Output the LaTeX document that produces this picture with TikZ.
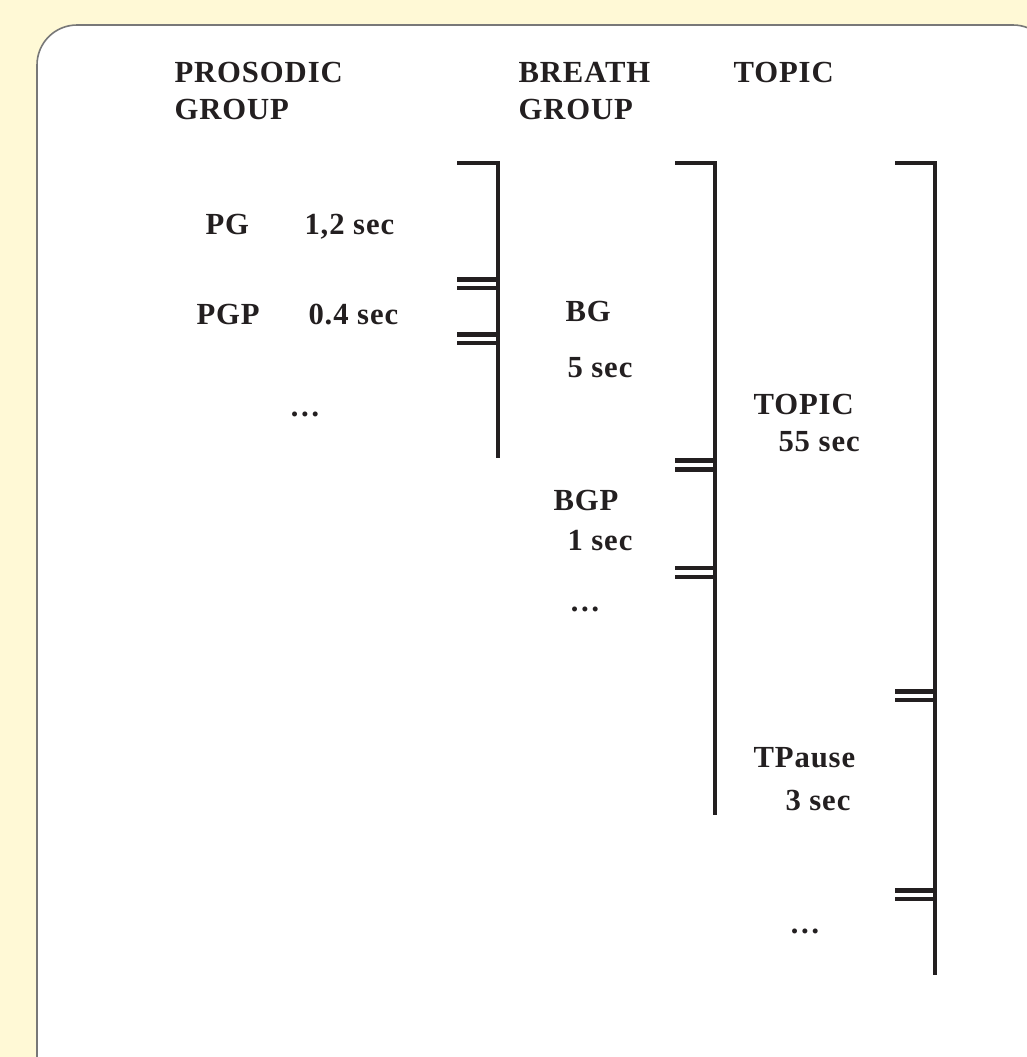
\documentclass[tikz,border=0pt]{standalone}
\usepackage{fontspec}
\setmainfont[LetterSpace=3]{Liberation Serif}
\definecolor{paper}{RGB}{255,249,214}
\definecolor{frame}{RGB}{120,120,120}
\definecolor{ink}{RGB}{35,31,32}
\tikzset{every picture/.style={line width=0.75pt}}
\tikzset{
  bar/.style={draw=ink, line width=3.6pt},
  lbl/.style={anchor=base west, inner sep=0pt, text=ink, font=\fontsize{23}{28}\selectfont\bfseries},
}

\begin{document}
\begin{tikzpicture}[x=0.75pt,y=0.75pt,yscale=-1,xscale=1]
%set diagram left start at 0, and has height of 1057
\useasboundingbox (0,0) rectangle (1027,1057);
\fill [paper] (0,0) rectangle (1027,1057);
\clip (0,0) rectangle (1027,1057);

%Shape: Rounded Rect
\draw [draw=frame, fill=white, line width=1.2pt, rounded corners=30pt] (37,1097) -- (37,25) -- (1053,25) -- (1053,1097) -- cycle ;

%Straight Lines (prosodic group bracket)
\draw [bar] (457,163) -- (498,163) ;
\draw [bar] (498,161) -- (498,458) ;
\draw [bar] (457,279.5) -- (498,279.5) ;
\draw [bar] (457,288) -- (498,288) ;
\draw [bar] (457,334.5) -- (498,334.5) ;
\draw [bar] (457,343) -- (498,343) ;

%Straight Lines (breath group bracket)
\draw [bar] (675,163) -- (715,163) ;
\draw [bar] (715,161) -- (715,815) ;
\draw [bar] (675,460.5) -- (715,460.5) ;
\draw [bar] (675,469.5) -- (715,469.5) ;
\draw [bar] (675,568) -- (715,568) ;
\draw [bar] (675,577) -- (715,577) ;

%Straight Lines (topic bracket)
\draw [bar] (895,163) -- (935,163) ;
\draw [bar] (935,161) -- (935,975) ;
\draw [bar] (895,691.5) -- (935,691.5) ;
\draw [bar] (895,700) -- (935,700) ;
\draw [bar] (895,890.5) -- (935,890.5) ;
\draw [bar] (895,899) -- (935,899) ;

% Text Node
\node [lbl] (pghead) at (174,82) {PROSODIC};
\node [lbl] (pghead2) at (174,119) {GROUP};
\node [lbl] (bghead) at (518,82) {BREATH};
\node [lbl] (bghead2) at (518,119) {GROUP};
\node [lbl] (tphead) at (733,82) {TOPIC};

% Text Node
\node [lbl] (pg) at (205,234) {PG};
\node [lbl] (pgdur) at (304,234) {1,2 sec};
\node [lbl] (pgp) at (196,324) {PGP};
\node [lbl] (pgpdur) at (308,324) {0.4 sec};
\node [lbl] (pgdots) at (289,416) {…};

% Text Node
\node [lbl] (bg) at (565,321) {BG};
\node [lbl] (bgdur) at (567,377) {5 sec};
\node [lbl] (bgp) at (553,510) {BGP};
\node [lbl] (bgpdur) at (567,550) {1 sec};
\node [lbl] (bgdots) at (569,611) {…};

% Text Node
\node [lbl] (tp) at (753,414) {TOPIC};
\node [lbl] (tpdur) at (778,451) {55 sec};
\node [lbl] (tpause) at (753,767) {TPause};
\node [lbl] (tpausedur) at (785,810) {3 sec};
\node [lbl] (tpdots) at (789,933) {…};

\end{tikzpicture}
\end{document}
